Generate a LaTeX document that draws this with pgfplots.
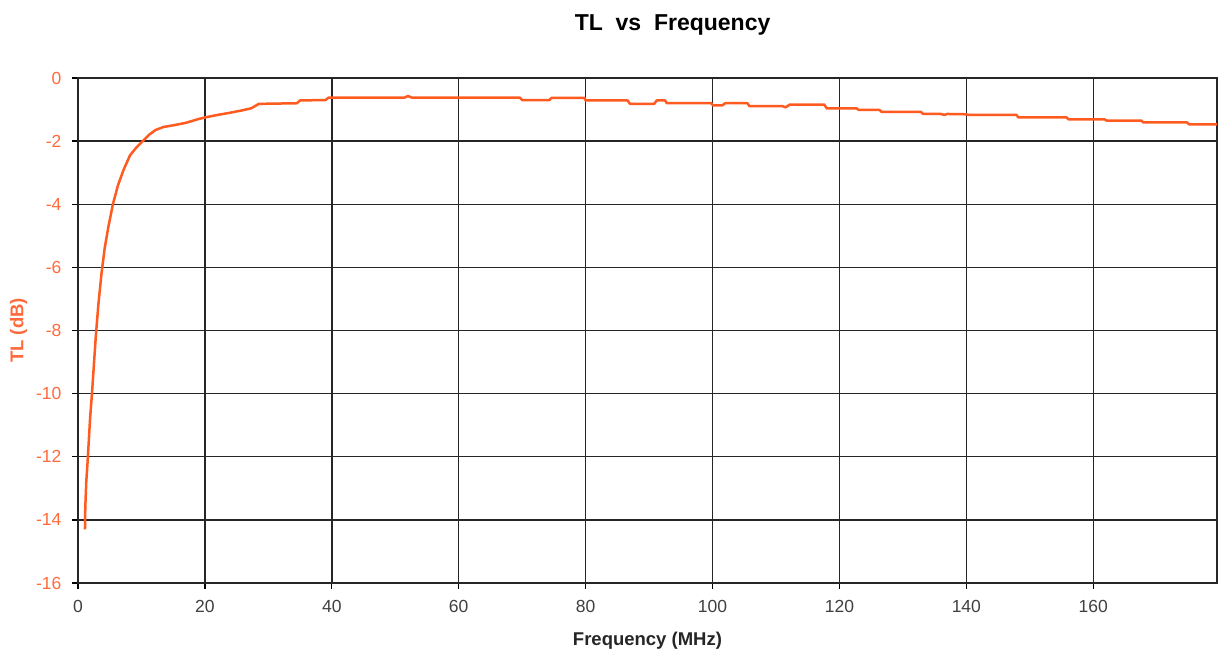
\documentclass[border=0pt]{standalone}
\usepackage{fontspec}
\setmainfont{Liberation Sans}
\usepackage{pgfplots}
\pgfplotsset{compat=1.18}
\definecolor{curve}{HTML}{FF5A1F}
\definecolor{ylab}{HTML}{FF6A3D}
\begin{document}
\begin{tikzpicture}
\begin{axis}[
  scale only axis,
  width=1139pt, height=505pt,
  xmin=0, xmax=179.5, ymin=-16, ymax=0,
  xtick={0,20,...,160}, ytick={-16,-14,...,0},
  /pgf/number format/assume math mode=true,
  tick label style={font=\fontsize{17.5}{19}\selectfont},
  yticklabel style={text=ylab, xshift=-7pt},
  xticklabel style={text=black!75, yshift=-8pt},
  tick align=outside, major tick length=6pt,
  xtick pos=bottom, ytick pos=left,
  tick style={black, line width=1.3pt},
  axis line style={black!85, line width=1.6pt},
  grid=major, major grid style={black!85, line width=1.4pt},
  xlabel={\bfseries Frequency (MHz)},
  ylabel={\bfseries TL (dB)},
  xlabel style={font=\fontsize{18.5}{20}\selectfont, text=black!85, yshift=-12pt},
  ylabel style={font=\fontsize{18.5}{20}\selectfont, text=ylab, yshift=2pt},
  title={\bfseries TL\ \ vs\ \ Frequency},
  title style={font=\fontsize{23}{25}\selectfont, at={(0.522,1)}, yshift=33pt},
]
\addplot[curve, line width=2.5pt, line join=round] coordinates {
(1.1,-14.3) (1.15,-13.6) (1.3,-12.8) (1.5,-12.2) (1.7,-11.5) (1.9,-10.8) (2.2,-10)
(2.5,-9.1) (2.8,-8.2) (3.2,-7.2) (3.7,-6.2) (4.2,-5.4) (4.8,-4.7) (5.5,-4.0)
(6.3,-3.4) (7.2,-2.9) (8.2,-2.45) (9.2,-2.2) (10.2,-2.0) (11.2,-1.8) (12.2,-1.65)
(13.5,-1.55) (15,-1.5) (17,-1.42) (19,-1.3) (20,-1.25) (22,-1.17) (24,-1.1)
(26,-1.02) (27.3,-0.96) (28.5,-0.82) (34.5,-0.80) (35,-0.71) (39,-0.70) (39.5,-0.62)
(51.5,-0.62) (52,-0.57) (52.6,-0.62) (69.6,-0.62) (70,-0.70) (74.3,-0.70) (74.6,-0.63)
(79.8,-0.63) (80,-0.71) (86.6,-0.71) (87,-0.82) (90.8,-0.82) (91.2,-0.71) (92.5,-0.71)
(92.8,-0.80) (99.8,-0.80) (100.1,-0.87) (101.5,-0.87) (102,-0.80) (105.5,-0.80)
(105.8,-0.89) (111,-0.89) (111.5,-0.93) (112.2,-0.84) (117.6,-0.84) (118,-0.96)
(122.7,-0.96) (123,-1.01) (126.3,-1.01) (126.6,-1.07) (132.8,-1.07) (133.2,-1.14)
(136,-1.14) (136.5,-1.17) (137,-1.14) (140,-1.15) (140.3,-1.17) (147.9,-1.17)
(148.2,-1.25) (155.8,-1.25) (156.1,-1.31) (161.8,-1.31) (162.1,-1.35) (167.6,-1.35)
(167.9,-1.41) (174.8,-1.41) (175.1,-1.47) (179.5,-1.47)
};
\end{axis}
\pgfresetboundingbox
\path (current axis.south west) ++(-78pt,-77pt) rectangle ++(1219pt,660pt);
\end{tikzpicture}
\end{document}
